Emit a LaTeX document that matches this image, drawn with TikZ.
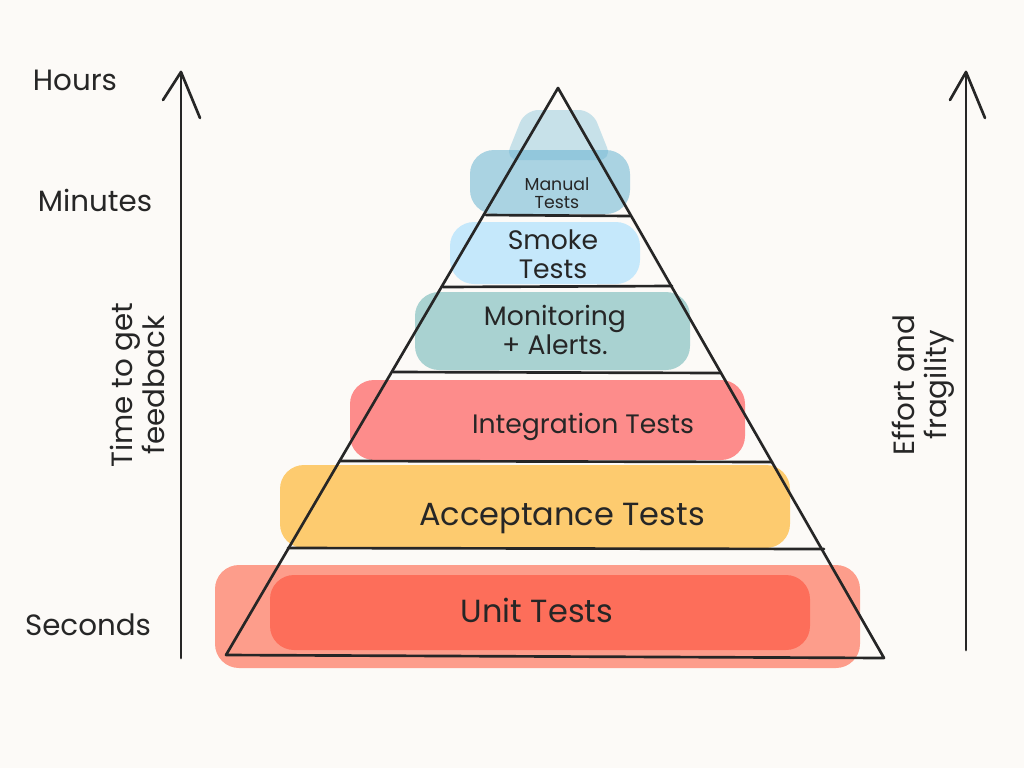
\documentclass[tikz,border=0pt]{standalone}
\usepackage{fontspec}
\setmainfont{Poppins}
\begin{document}
\begin{tikzpicture}[x=0.75pt,y=-0.75pt,
  blob/.style={rounded corners=18pt,opacity=0.55},
  lbl/.style={font=\fontsize{20}{22}\selectfont,align=center,text=black!85},
  side/.style={font=\fontsize{22}{24}\selectfont,text=black!85},
  ln/.style={line width=2pt,black!85,line cap=round,line join=round}]
\fill[white!96!brown] (0,0) rectangle (1024,768);
\useasboundingbox (0,0) rectangle (1024,768);
% blobs
\fill[blob,fill=red!70!orange!80] (215,565) rectangle (860,668);
\fill[blob,fill=red!80!orange,opacity=0.35] (270,575) rectangle (810,650);
\fill[blob,fill=orange!70!yellow] (280,465) rectangle (790,548);
\fill[blob,fill=red!80] (350,380) rectangle (745,460);
\fill[blob,fill=teal!60] (415,292) rectangle (690,370);
\fill[blob,fill=blue!35!cyan!40] (450,222) rectangle (640,284);
\fill[blob,fill=cyan!50!teal!70] (470,150) rectangle (630,214);
\fill[blob,fill=cyan!50!teal!70,opacity=0.35,rounded corners=10pt] (525,110) -- (592,110) -- (612,160) -- (505,160) -- cycle;
% pyramid
\coordinate (apex) at (558,88);
\coordinate (bl) at (226,655);
\coordinate (br) at (884,658);
\draw[ln] (apex) -- (bl) -- (br) -- cycle;
\draw[ln] (486,215) -- (630,216);
\draw[ln] (443,287) -- (672,286);
\draw[ln] (393,372) -- (720,373);
\draw[ln] (340,461) -- (772,462);
\draw[ln] (288,548) -- (824,549);
% labels
\node[lbl,font=\fontsize{13}{14}\selectfont] (manual) at (557,193) {Manual\\Tests};
\node[lbl] (smoke) at (553,254) {Smoke\\Tests};
\node[lbl] (mon) at (555,330) {Monitoring\\+ Alerts.};
\node[lbl] (int) at (583,427) {Integration Tests};
\node[lbl,font=\fontsize{24}{26}\selectfont] (acc) at (562,518) {Acceptance Tests};
\node[lbl,font=\fontsize{24}{26}\selectfont] (unit) at (537,610) {Unit Tests};
% axes
\coordinate (l0) at (181,658); \coordinate (l1) at (181,72);
\coordinate (r0) at (966,650); \coordinate (r1) at (966,72);
\draw[ln] (l0) -- (l1);
\draw[ln] (163,100) -- (l1) -- (200,118);
\draw[ln] (r0) -- (r1);
\draw[ln] (950,100) -- (r1) -- (985,118);
\node[side] (hours) at (75,80) {Hours};
\node[side] (min) at (95,200) {Minutes};
\node[side] (sec) at (88,625) {Seconds};
\node[side,rotate=90,align=center] (time) at (137,385) {Time to get\\feedback};
\node[side,rotate=90,align=center] (eff) at (923,385) {Effort and\\fragility};
\end{tikzpicture}
\end{document}
